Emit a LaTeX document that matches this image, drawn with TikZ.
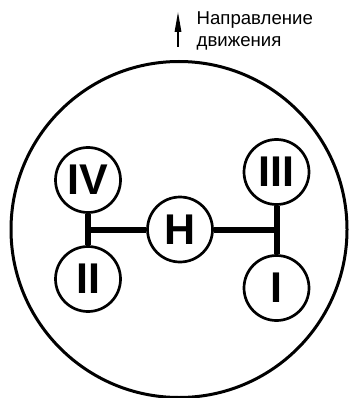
\documentclass[tikz,border=0pt]{standalone}
\usepackage{fontspec}
\setmainfont{Liberation Sans}
\usetikzlibrary{arrows.meta}
\begin{document}
\begin{tikzpicture}[x=1pt,y=-1pt,
  gear/.style={circle,draw,line width=2.7pt,minimum size=65pt,inner sep=0pt,
    font=\fontsize{43}{43}\selectfont\bfseries},
  bar/.style={line width=6pt},
  caption/.style={anchor=base west,inner sep=0pt,font=\fontsize{18.6}{22}\selectfont}]
\useasboundingbox (0,0) rectangle (350,398);
\node[circle,draw,line width=3pt,minimum size=336pt,inner sep=0pt] (body) at (179,229.5) {};
\node[gear] (IV) at (88,180) {IV};
\node[gear] (II) at (88,279) {II};
\node[gear] (H) at (180,229.5) {Н};
\node[gear] (III) at (276.5,172) {III};
\node[gear] (I) at (276.5,288) {I};
\draw[bar] (IV) -- (II);
\draw[bar] (III) -- (I);
\draw[bar] (H) -- (H -| IV);
\draw[bar] (H) -- (H -| III);
\coordinate (tail) at (178,47);
\coordinate (tip) at (178,12);
\draw[line width=1.5pt,-{Triangle[length=20pt,width=6.5pt]}] (tail) -- (tip);
\node[caption] (t1) at (196.5,25) {Направление};
\node[caption] (t2) at (196.5,47) {движения};
\end{tikzpicture}
\end{document}
